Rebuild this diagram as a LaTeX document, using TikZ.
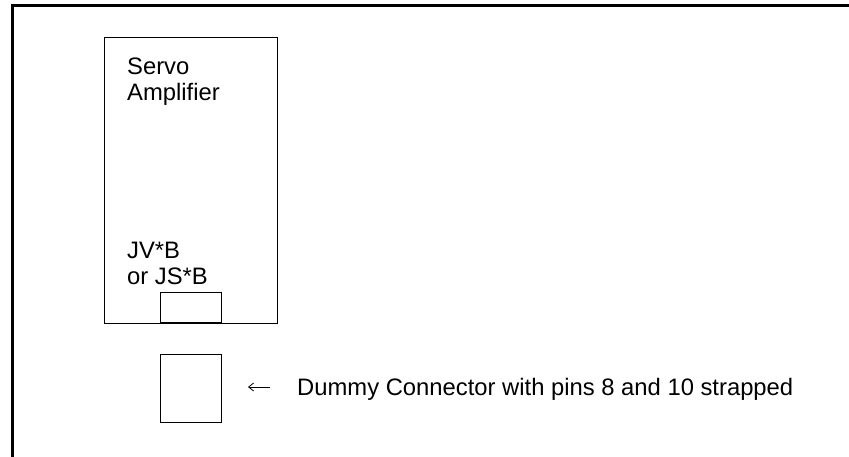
\documentclass[tikz,border=0pt]{standalone}
\usepackage{fontspec}
\setmainfont{Liberation Sans}
\usetikzlibrary{arrows.meta}
\begin{document}
\begin{tikzpicture}[x=1pt,y=-1pt,
  box/.style={draw=black,line width=1pt},
  lbl/.style={font=\fontsize{23.8}{26}\selectfont,inner sep=0pt,align=left,anchor=base west},
  frameline/.style={line width=3pt,draw=black},
  pointer/.style={line width=0.8pt,-{Straight Barb[length=5pt,width=8pt]}}]
\useasboundingbox (0,0) rectangle (849,456);
% outer frame (top and left edges only)
\draw[frameline] (12.5,460) -- (12.5,5.5) -- (853,5.5);
% servo amplifier
\node[box,minimum width=173.5pt,minimum height=286.5pt,anchor=north west,inner sep=0pt] (amp) at (103.5,36.5) {};
\node[lbl] (ampname) at (127,100) {Servo\\Amplifier};
\node[lbl] (port) at (127,284) {JV*B\\or JS*B};
\node[box,minimum width=61pt,minimum height=30pt,anchor=south west,inner sep=0pt] (socket) at (160,323) {};
% dummy connector
\node[box,minimum width=61pt,minimum height=68pt,anchor=north west,inner sep=0pt] (dummy) at (160,354) {};
\node[lbl] (dlbl) at (297,395) {Dummy Connector with pins 8 and 10 strapped};
\coordinate (arrs) at (270,387);
\coordinate (arre) at (248,387);
\draw[pointer] (arrs) -- (arre);
\end{tikzpicture}
\end{document}
